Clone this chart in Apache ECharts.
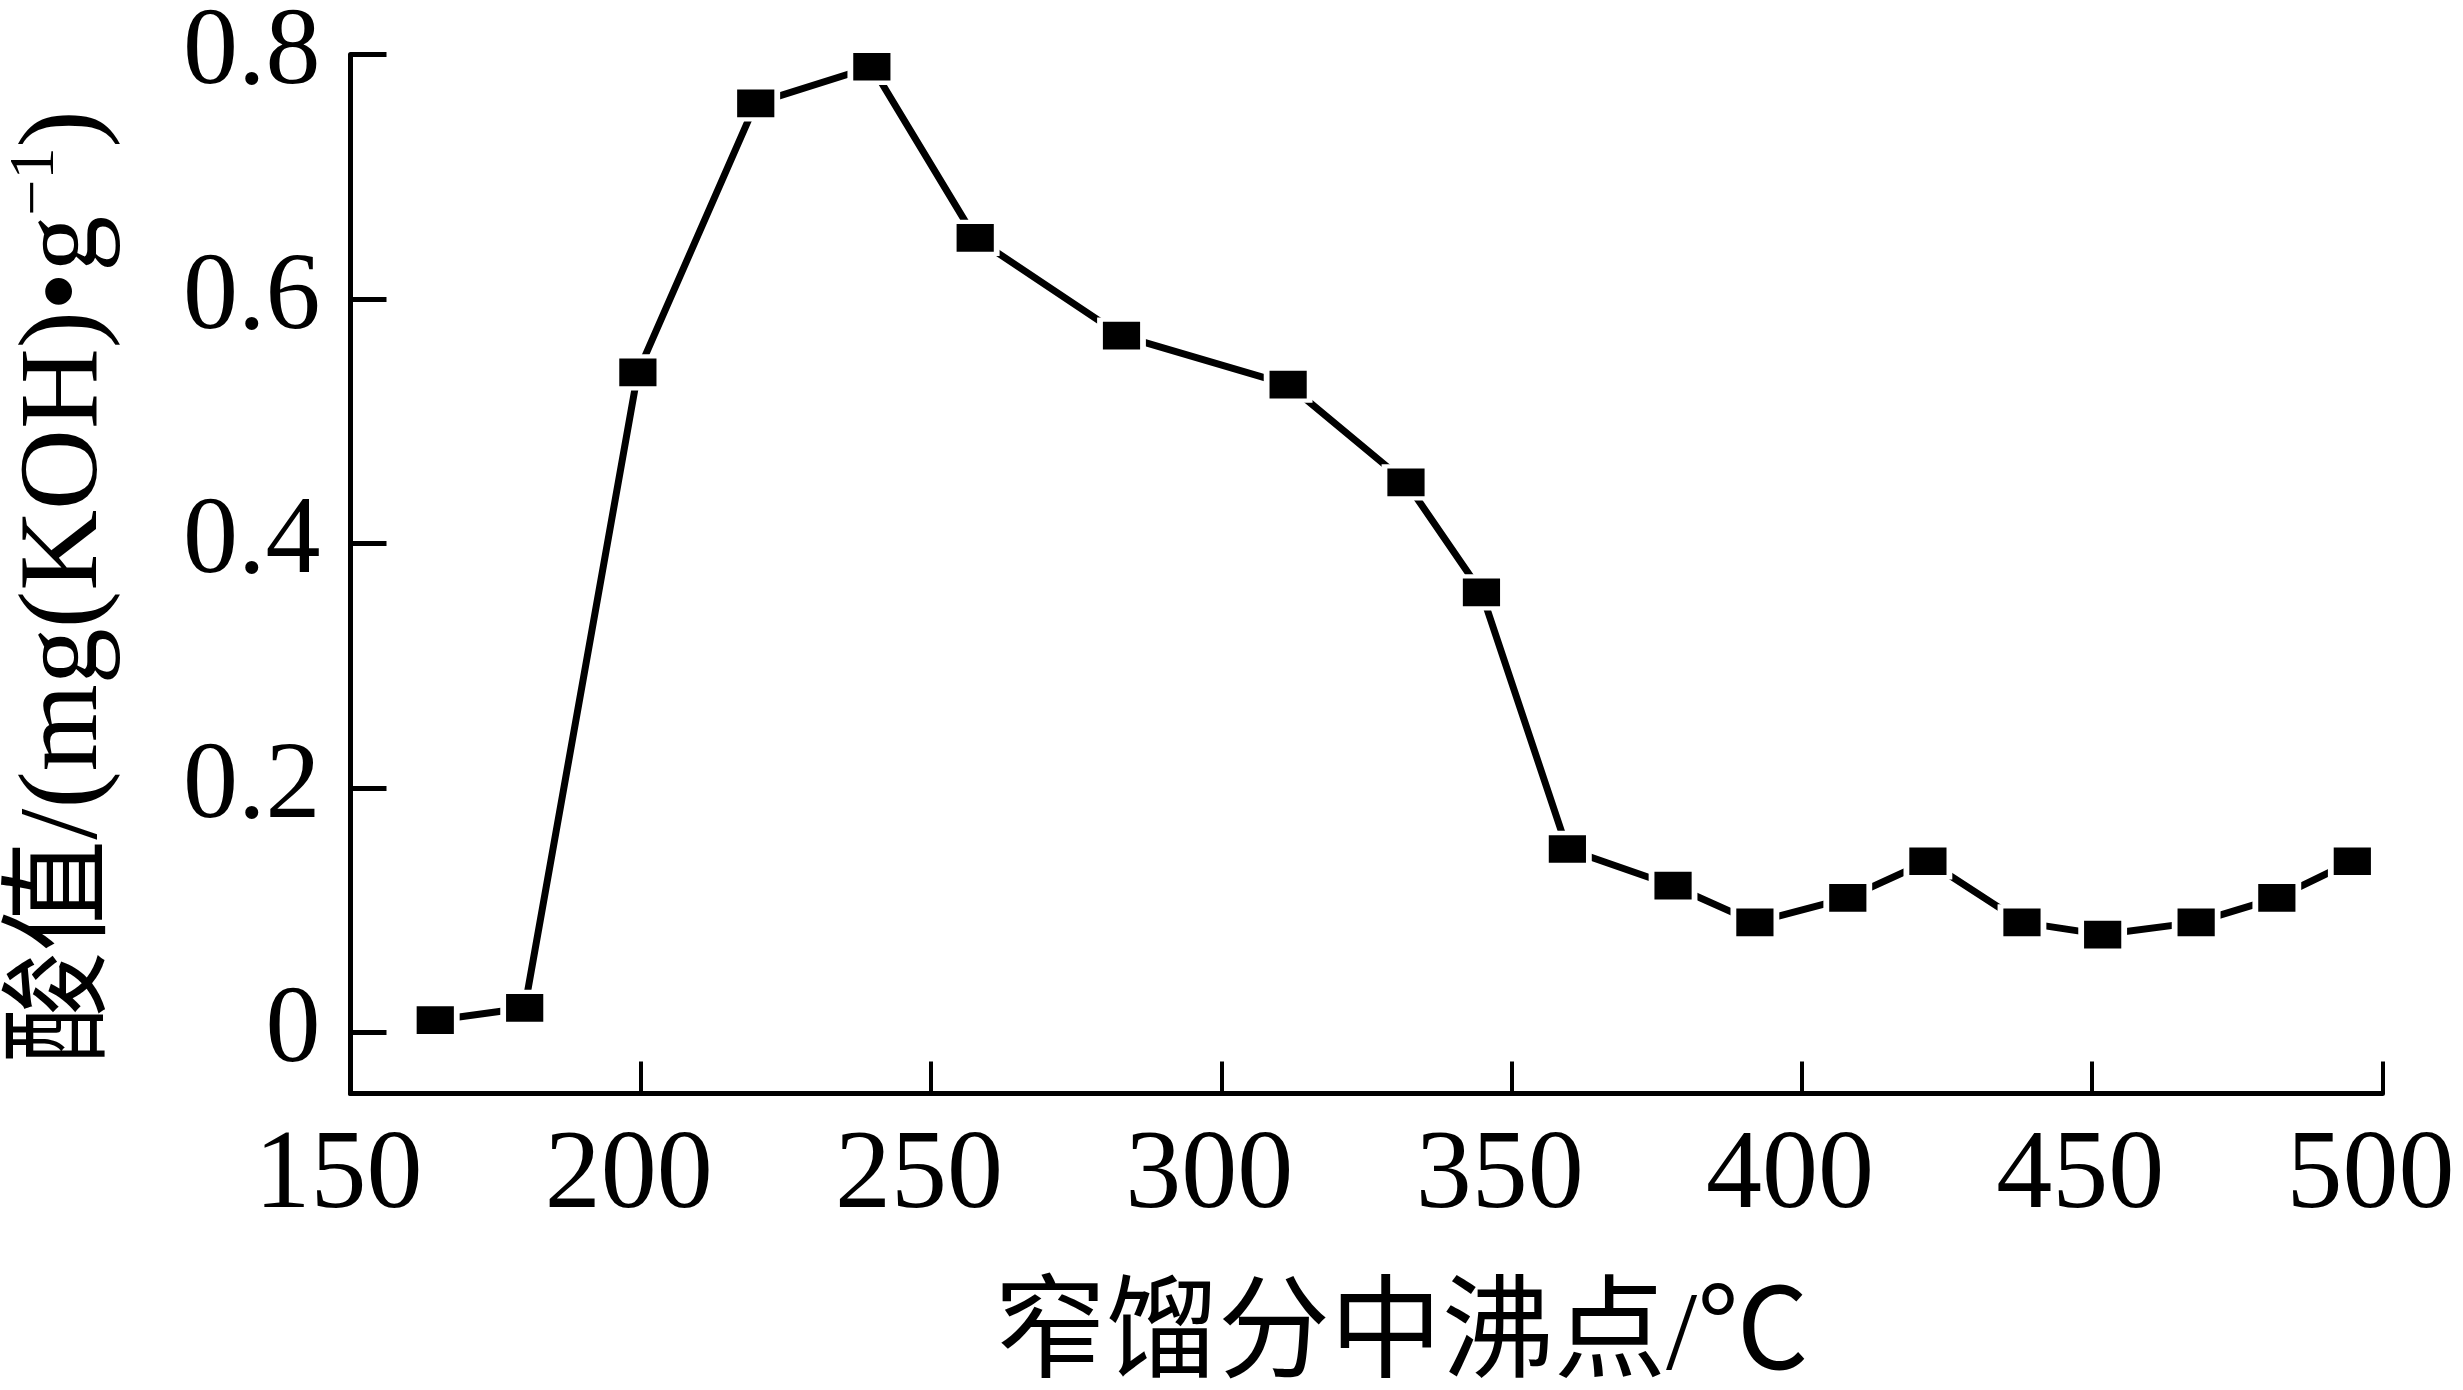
<!DOCTYPE html>
<html>
<head>
<meta charset="utf-8">
<script src="https://cdn.jsdelivr.net/npm/echarts@6/dist/echarts.min.js"></script>
<style>
html,body{margin:0;padding:0;background:#fff;}
#chart{width:2463px;height:1390px;}
</style>
</head>
<body>
<div id="chart"></div>
<script>
// Boiling point (°C) of narrow fractions
const boilingPoints = [164.6, 180, 199.5, 219.8, 239.8, 257.6, 282.8, 311.5, 331.8, 344.8, 359.6, 377.8, 391.9, 407.9, 421.7, 437.9, 451.8, 467.9, 481.8, 494.8];
// Acid value, mg(KOH)/g
const acidValues = [0.01, 0.02, 0.54, 0.76, 0.79, 0.65, 0.57, 0.53, 0.45, 0.36, 0.15, 0.12, 0.09, 0.11, 0.14, 0.09, 0.08, 0.09, 0.11, 0.14];
const yTickValues = [0, 0.2, 0.4, 0.6, 0.8];
const yTickLabels = ['0', '0.2', '0.4', '0.6', '0.8'];
const xAxisTitle = '窄馏分中沸点/℃';

const FONT = "'Liberation Serif', 'Times New Roman', 'Noto Sans CJK SC', serif";
const chart = echarts.init(document.getElementById('chart'), null, {renderer: 'canvas'});
const seriesData = boilingPoints.map((x, i) => [x, acidValues[i]]);

chart.setOption({
  animation: false,
  backgroundColor: '#ffffff',
  grid: {left: 350.5, right: 80.5, top: 54.5, bottom: 296.5, containLabel: false, outerBoundsMode: 'none'},
  xAxis: {
    type: 'value', min: 150, max: 500, interval: 50,
    name: xAxisTitle, nameLocation: 'middle', nameGap: 190,
    nameTextStyle: {fontFamily: FONT, fontSize: 112, color: '#000', padding: [0, 0, 0, 70]},
    axisLine: {onZero: false, lineStyle: {color: '#000', width: 5}},
    axisTick: {inside: true, length: 32, lineStyle: {color: '#000', width: 4}},
    axisLabel: {fontFamily: FONT, fontSize: 112, color: '#000', margin: 28, padding: [0, 24, 0, 0]},
    splitLine: {show: false}
  },
  yAxis: {
    type: 'value', min: -0.05, max: 0.8,
    name: '{a|酸值/(mg(KOH)•g}{s|−1}{a|)}', nameLocation: 'middle', nameGap: 222, nameRotate: 90,
    nameTextStyle: {
      fontFamily: FONT, fontSize: 110, color: '#000', padding: [0, 26, 0, 0],
      rich: {
        a: {fontFamily: FONT, fontSize: 112, color: '#000', lineHeight: 124},
        s: {fontFamily: FONT, fontSize: 64, color: '#000', lineHeight: 124, verticalAlign: 'top', padding: [0, 0, 40, 0]}
      }
    },
    axisLine: {lineStyle: {color: '#000', width: 5}},
    axisTick: {inside: true, length: 36, customValues: yTickValues, lineStyle: {color: '#000', width: 5}},
    axisLabel: {
      customValues: yTickValues, fontFamily: FONT, fontSize: 110, color: '#000', margin: 30,
      formatter: function (v) {
        const i = yTickValues.findIndex(t => Math.abs(t - v) < 1e-9);
        return i >= 0 ? yTickLabels[i] : '';
      }
    },
    splitLine: {show: false}
  },
  series: [{
    type: 'line',
    data: seriesData,
    symbol: 'rect',
    symbolSize: [43, 32],
    showAllSymbol: true,
    itemStyle: {color: '#000', borderColor: '#fff', borderWidth: 5},
    lineStyle: {color: '#000', width: 7, cap: 'round'},
    emphasis: {disabled: true},
    clip: false
  }]
});
</script>
</body>
</html>
